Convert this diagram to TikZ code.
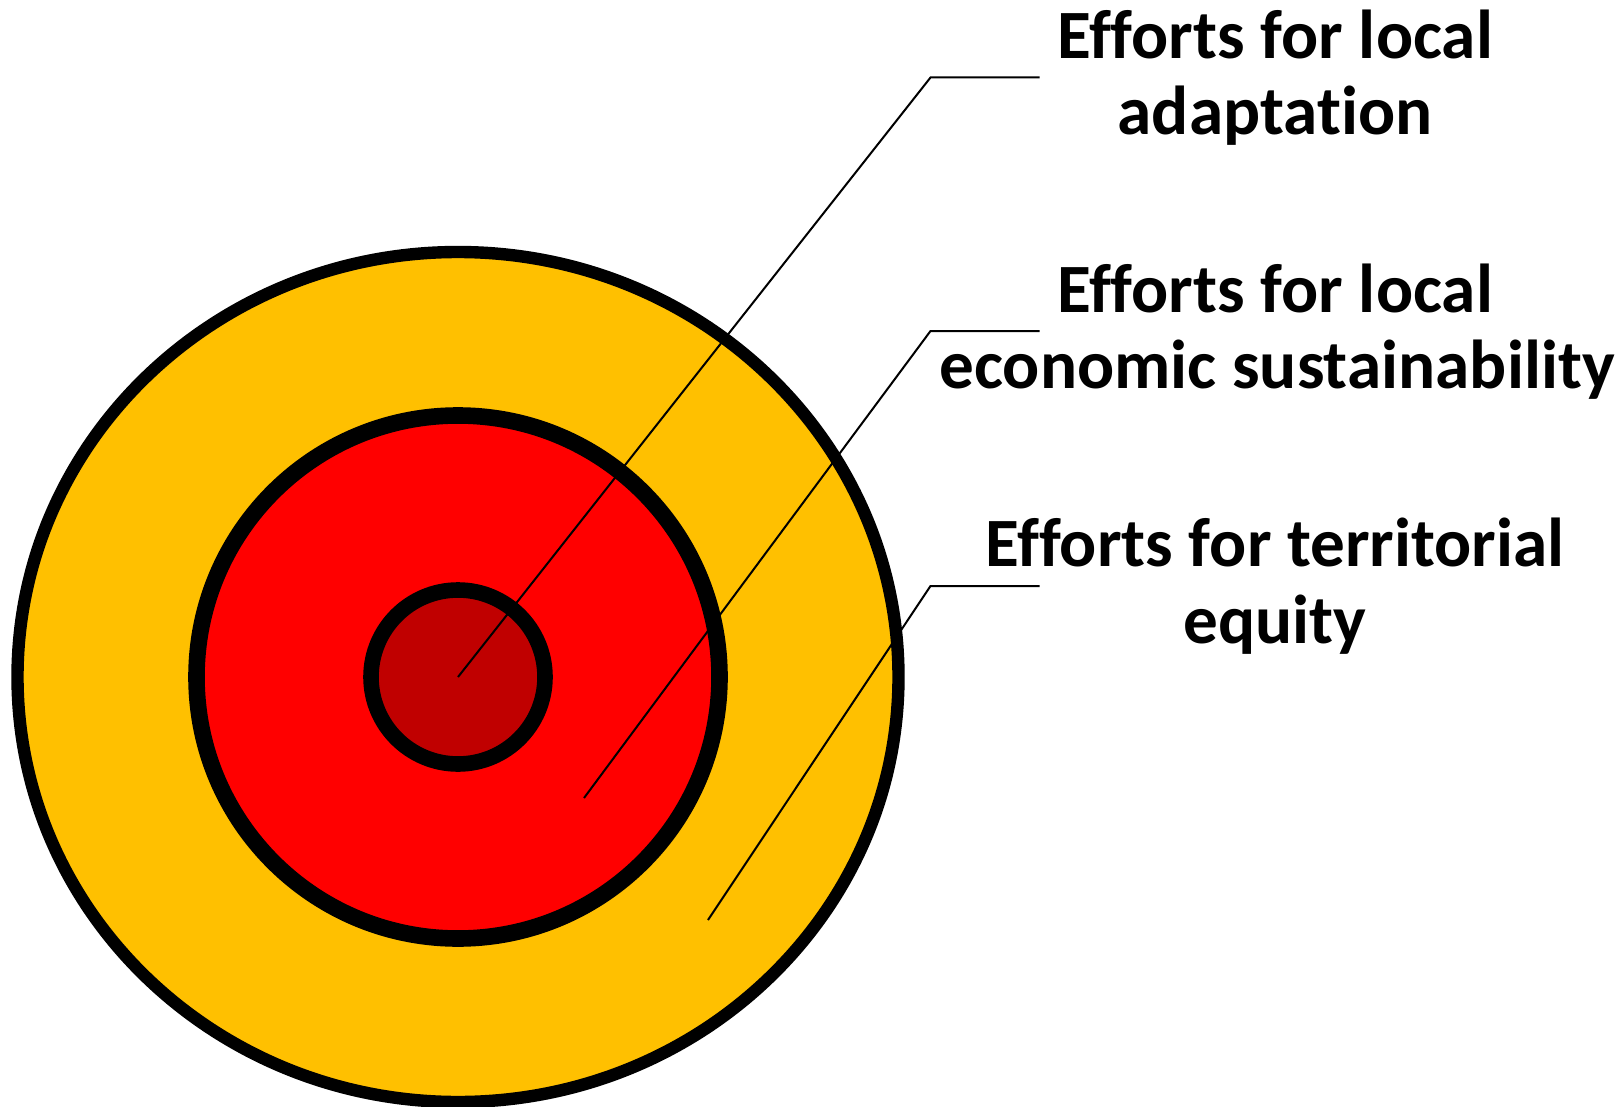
\documentclass[tikz,border=0pt]{standalone}
\usepackage{fontspec}
\setmainfont[Ligatures=NoCommon]{Carlito}
\definecolor{gold}{HTML}{FFC000}
\definecolor{brightred}{HTML}{FF0000}
\definecolor{darkred}{HTML}{C00000}
\begin{document}
\begin{tikzpicture}[x=0.5pt,y=-0.5pt,
  lbl/.style={font=\fontsize{34.6}{40}\selectfont\bfseries, anchor=base, inner sep=0pt},
  lead/.style={draw=black, line width=1pt}]
\useasboundingbox (0,0) rectangle (1621,1107);
\coordinate (c) at (458,677);
% rings
\filldraw[fill=gold, draw=black, line width=6.2pt] (c) ellipse [x radius=440.5, y radius=425];
\filldraw[fill=brightred, draw=black, line width=8.3pt] (c) circle [radius=261.5];
\filldraw[fill=darkred, draw=black, line width=7.8pt] (c) circle [radius=87];
% leader coordinates
\coordinate (s1) at (458,677);
\coordinate (e1) at (930.5,77.5);
\coordinate (h1) at (1039.5,77.5);
\coordinate (s2) at (584,798);
\coordinate (e2) at (930.5,331);
\coordinate (h2) at (1039.5,331);
\coordinate (s3) at (708,920);
\coordinate (e3) at (930.5,586);
\coordinate (h3) at (1039.5,586);
\draw[lead] (s1) -- (e1) -- (h1);
\draw[lead] (s2) -- (e2) -- (h2);
\draw[lead] (s3) -- (e3) -- (h3);
% labels
\node[lbl] (t1a) at (1275,58.5) {Efforts for local};
\node[lbl] (t1b) at (1275,135) {adaptation};
\node[lbl] (t2a) at (1275,312.3) {Efforts for local};
\node[lbl] (t2b) at (1277,388) {economic sustainability};
\node[lbl] (t3a) at (1275,566.7) {Efforts for territorial};
\node[lbl] (t3b) at (1275,643) {equity};
\end{tikzpicture}
\end{document}
